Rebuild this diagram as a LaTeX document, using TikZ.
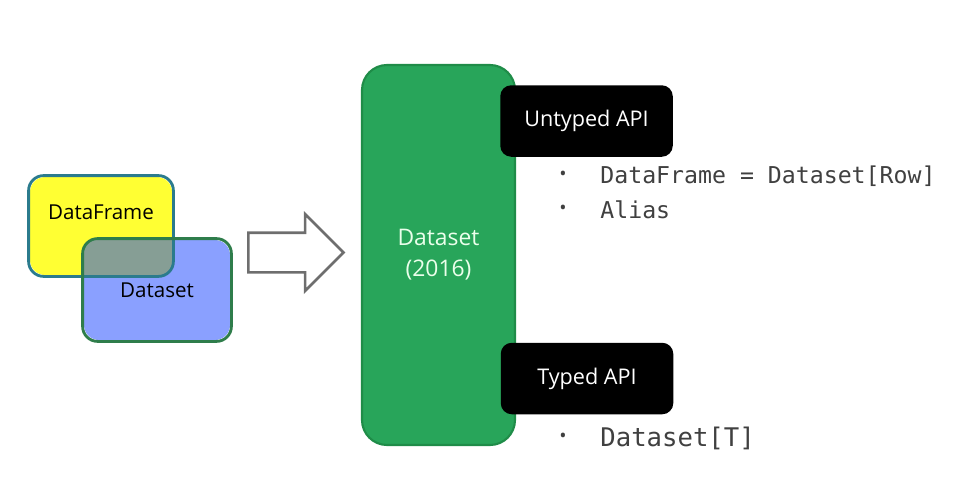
\documentclass[tikz,border=0pt]{standalone}
\usepackage{fontspec}
\setmainfont{Open Sans}
\setmonofont{DejaVu Sans Mono}
\usepackage{xcolor}
\usetikzlibrary{shapes.arrows, positioning}

\definecolor{dfyellow}{HTML}{FFFF33}
\definecolor{dfedge}{HTML}{2B7B8D}
\definecolor{dsblue}{HTML}{8AA0FF}
\definecolor{dsedge}{HTML}{2F7D4B}
\definecolor{overlapgray}{HTML}{869E95}
\definecolor{apigreen}{HTML}{28A55A}
\definecolor{apiedge}{HTML}{1F8C48}
\definecolor{arrowgray}{HTML}{6E6E6E}
\definecolor{itemgray}{HTML}{404040}

\begin{document}
\begin{tikzpicture}[
    setbox/.style={rectangle, rounded corners=0.3cm, line width=1.6pt, inner sep=0pt},
    apibox/.style={draw=apiedge, fill=apigreen, rectangle, rounded corners=0.5cm, line width=1.2pt,
        minimum width=3.06cm, minimum height=7.6cm, text=white!92!green, align=center,
        font=\fontsize{13pt}{17.6pt}\selectfont},
    kindbox/.style={fill=black, rectangle, rounded corners=0.22cm, minimum width=3.45cm,
        minimum height=1.43cm, text=white, font=\fontsize{12.3pt}{14pt}\selectfont},
    item/.style={anchor=west, inner sep=0pt, text=itemgray, font=\fontsize{13.2pt}{16pt}\ttfamily},
    bullet/.style={anchor=center, inner sep=0pt, text=itemgray, font=\fontsize{11pt}{12pt}\selectfont}
]
    \useasboundingbox (0,0) rectangle (19.12,-9.84);

    % DataFrame / Dataset before 2016
    \node[setbox, fill=dfyellow, minimum width=2.84cm, minimum height=1.96cm] (df) at (2.02,-4.52) {};
    \node[setbox, fill=dsblue, minimum width=2.92cm, minimum height=2.0cm] (ds) at (3.14,-5.8) {};
    \begin{scope}
        \clip[rounded corners=0.3cm] (df.south west) rectangle (df.north east);
        \fill[overlapgray, rounded corners=0.3cm] (ds.south west) rectangle (ds.north east);
    \end{scope}
    \draw[dfedge, line width=1.6pt, rounded corners=0.3cm] (df.south west) rectangle (df.north east);
    \draw[dsedge, line width=1.6pt, rounded corners=0.3cm] (ds.south west) rectangle (ds.north east);
    \node[font=\fontsize{11.7pt}{14pt}\selectfont] (dflabel) at ([yshift=0.28cm]df.center) {DataFrame};
    \node[font=\fontsize{11.7pt}{14pt}\selectfont] (dslabel) at (ds.center) {Dataset};

    % Arrow
    \node[single arrow, draw=arrowgray, line width=1.5pt, fill=white, inner xsep=0pt, inner ysep=0.37cm,
        minimum height=1.9cm, single arrow head extend=0.37cm] (merge) at (5.72,-5.05) {};

    % Unified Dataset
    \node[apibox] (dataset) at (8.77,-5.1) {Dataset\\(2016)};

    % APIs
    \node[kindbox] (untyped) at (11.73,-2.42) {Untyped API};
    \node[kindbox] (typed) at (11.74,-7.57) {Typed API};

    % Untyped items
    \node[bullet] (b1) at (11.26,-3.52) {\textbullet};
    \node[item] (dfrow) at (12.0,-3.52) {DataFrame = Dataset[Row]};
    \node[bullet] (b2) at (11.26,-4.2) {\textbullet};
    \node[item] (alias) at (12.0,-4.2) {Alias};

    % Typed items
    \node[bullet] (b3) at (11.26,-8.76) {\textbullet};
    \node[item, font=\fontsize{14.6pt}{17pt}\ttfamily] (dst) at (12.0,-8.76) {Dataset[T]};
\end{tikzpicture}
\end{document}
